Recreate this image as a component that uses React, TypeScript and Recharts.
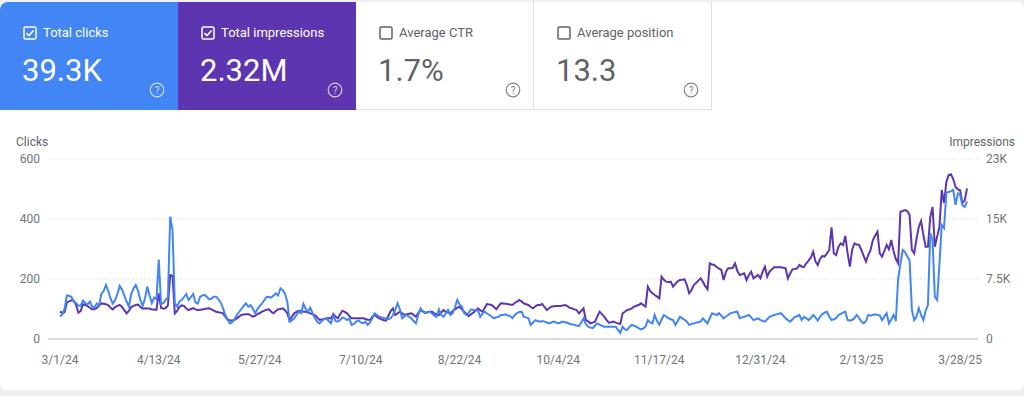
import React from "react";
import { LineChart, Line, XAxis, YAxis, CartesianGrid } from "recharts";

// daily values, 3/1/24 .. 3/31/25
const clicks = [
  75, 82, 100, 145, 144, 140, 125, 120, 112, 110,
  128, 120, 115, 125, 108, 105, 118, 112, 150, 160,
  180, 160, 135, 118, 130, 150, 177, 165, 145, 125,
  108, 150, 168, 180, 160, 130, 110, 135, 175, 145,
  120, 138, 132, 265, 118, 120, 130, 140, 408, 363,
  120, 108, 125, 130, 140, 150, 130, 140, 150, 122,
  118, 140, 145, 147, 140, 132, 135, 141, 141, 132,
  122, 102, 80, 65, 52, 56, 66, 80, 90, 100,
  110, 119, 108, 113, 100, 86, 100, 110, 119, 130,
  141, 140, 138, 145, 152, 145, 169, 163, 150, 124,
  58, 62, 69, 80, 91, 86, 117, 100, 91, 104,
  86, 70, 58, 52, 60, 66, 69, 60, 52, 80,
  60, 58, 63, 72, 69, 63, 68, 47, 50, 58,
  62, 55, 52, 58, 47, 55, 69, 86, 80, 74,
  72, 70, 69, 66, 69, 80, 97, 119, 100, 69,
  75, 80, 74, 69, 60, 52, 80, 102, 92, 86,
  88, 91, 85, 78, 74, 99, 80, 74, 85, 97,
  80, 86, 105, 130, 115, 108, 86, 80, 88, 99,
  97, 97, 95, 74, 85, 91, 85, 80, 75, 69,
  72, 74, 80, 80, 82, 78, 77, 69, 80, 86,
  90, 91, 74, 72, 69, 47, 55, 63, 60, 58,
  60, 58, 55, 52, 55, 58, 55, 52, 55, 58,
  56, 54, 50, 49, 47, 45, 43, 55, 69, 50,
  41, 38, 36, 45, 52, 48, 44, 41, 41, 42,
  41, 41, 41, 30, 21, 41, 32, 30, 40, 47,
  44, 41, 36, 32, 35, 41, 63, 55, 52, 80,
  60, 47, 65, 80, 75, 69, 66, 63, 47, 60,
  74, 69, 64, 58, 47, 50, 52, 54, 56, 58,
  69, 60, 52, 70, 86, 83, 80, 86, 78, 69,
  75, 80, 86, 88, 90, 91, 69, 72, 74, 77,
  80, 72, 63, 66, 69, 64, 60, 58, 66, 74,
  77, 80, 82, 84, 86, 78, 69, 63, 58, 66,
  74, 76, 80, 63, 74, 70, 63, 70, 80, 72,
  61, 75, 83, 88, 91, 75, 63, 66, 69, 80,
  84, 88, 91, 63, 62, 63, 70, 80, 70, 58,
  52, 60, 80, 78, 80, 82, 80, 79, 63, 75,
  86, 52, 65, 80, 60, 200, 250, 297, 290, 275,
  263, 97, 63, 75, 103, 80, 63, 95, 113, 353,
  330, 140, 130, 250, 380, 370, 487, 490, 493, 497,
  447, 485, 480, 445, 440, 458,
];

const impressions = [
  3400, 3300, 3350, 4600, 4700, 4850, 4800, 4250, 3300, 3500,
  4350, 4250, 4100, 3900, 3700, 3750, 3850, 4200, 4450, 4400,
  4350, 4250, 3900, 3700, 4000, 4150, 4250, 4000, 3600, 3200,
  3500, 4000, 4150, 4250, 4300, 4000, 3800, 3850, 3800, 3800,
  3700, 3700, 3650, 5700, 3900, 3800, 3850, 4200, 8000, 7900,
  3200, 3500, 4000, 4200, 4150, 3800, 3600, 3750, 3850, 3700,
  3600, 3650, 3700, 3750, 3800, 3830, 3700, 3550, 3415, 3350,
  3300, 3210, 2800, 2400, 2350, 2290, 2400, 2580, 2800, 3000,
  3050, 3100, 3125, 2950, 2790, 2900, 3125, 3250, 3415, 3550,
  3650, 3710, 3400, 3210, 3500, 3710, 3750, 3830, 3600, 3210,
  2290, 2800, 3210, 3400, 3540, 3500, 3415, 3400, 3300, 3210,
  3100, 3000, 2700, 2375, 2450, 2500, 2580, 2580, 2580, 3125,
  2800, 2580, 3100, 3540, 3400, 3210, 2870, 2580, 2580, 2600,
  2580, 2600, 2580, 2500, 2400, 2375, 2800, 3000, 2800, 2580,
  2450, 2350, 2290, 2900, 3500, 3830, 3000, 3200, 3415, 3200,
  3000, 3100, 3150, 3210, 3000, 2790, 3200, 3625, 3450, 3290,
  3350, 3400, 3415, 3200, 3100, 3000, 3300, 3625, 3400, 3300,
  3210, 3500, 3710, 3900, 4040, 3700, 3415, 3100, 2870, 3100,
  3290, 3550, 3830, 3600, 3415, 3900, 4375, 4300, 4250, 4000,
  3710, 4100, 4460, 4450, 4400, 4375, 4300, 4250, 4500, 4665,
  4875, 4700, 4460, 4350, 4250, 4000, 3830, 4100, 4250, 4250,
  4375, 4000, 3625, 3850, 4040, 4100, 4125, 4125, 4125, 4200,
  4250, 4100, 3900, 3830, 3700, 3625, 3210, 3500, 3830, 2375,
  2200, 1960, 2050, 2170, 2800, 3415, 3100, 2790, 2400, 2040,
  2100, 2170, 2050, 1950, 1875, 3210, 3400, 3625, 3700, 3830,
  4040, 4150, 4250, 4460, 4250, 4040, 6540, 6000, 5710, 5500,
  5300, 5080, 7790, 7400, 7165, 7100, 7165, 6540, 6900, 7200,
  7375, 7400, 7460, 6750, 5710, 6100, 6750, 7000, 7300, 7580,
  7165, 6600, 6210, 9460, 9300, 9250, 9000, 8800, 8625, 7375,
  8400, 8830, 8830, 8900, 9460, 8500, 8000, 8100, 8210, 7375,
  8000, 8415, 7580, 7800, 8000, 7580, 8400, 9040, 7790, 8415,
  8700, 8960, 8960, 8960, 8960, 8900, 8830, 7580, 8200, 8710,
  8760, 8830, 9250, 9040, 9000, 9460, 9800, 10200, 10915, 9700,
  9250, 10000, 10375, 10290, 10700, 11125, 13960, 10710, 10500, 11500,
  11960, 11750, 12875, 10710, 9040, 11200, 11960, 11800, 11750, 11125,
  10400, 9665, 10500, 11125, 12375, 12900, 13415, 10710, 10290, 11000,
  11750, 11210, 12375, 11000, 10000, 9460, 15915, 16000, 16125, 16000,
  15500, 11125, 10710, 12500, 14000, 14750, 13000, 11500, 11540, 15250,
  16500, 11540, 12800, 14000, 18625, 17000, 19600, 20500, 20600, 20000,
  19000, 18710, 18600, 17000, 17300, 18830,
];

const dateTicks = ["3/1/24", "4/13/24", "5/27/24", "7/10/24", "8/22/24", "10/4/24", "11/17/24", "12/31/24", "2/13/25", "3/28/25"];
const clickTicks = [0, 200, 400, 600];
const impressionTicks = [0, 7500, 15000, 22500];

const tileLabels = ["Total clicks", "Total impressions", "Average CTR", "Average position"];
const tileValues = ["39.3K", "2.32M", "1.7%", "13.3"];

const BLUE = "#4285f4";
const PURPLE = "#5e35b1";
const GREY = "#5f6368";
const AXIS_TEXT = "#70757a";

const dayLabel = (i: number) => {
  const d = new Date(2024, 2, 1 + i);
  return `${d.getMonth() + 1}/${d.getDate()}/${String(d.getFullYear()).slice(2)}`;
};

const data = clicks.map((c, i) => ({ date: dayLabel(i), clicks: c, impressions: impressions[i] }));

const fmtImpressions = (v: number) => (v === 0 ? "0" : `${Number((v / 1000).toPrecision(2))}K`);

function CheckBox({ checked, color }: { checked: boolean; color: string }) {
  return (
    <svg width="14" height="14" viewBox="0 0 14 14" style={{ position: "absolute", left: 0, top: 0 }}>
      <rect x="1" y="1" width="12" height="12" rx="1.5" fill="none" stroke={color} strokeWidth="1.5" />
      {checked && <path d="M3.4 7.1 L5.9 9.5 L10.6 4.5" fill="none" stroke={color} strokeWidth="1.6" />}
    </svg>
  );
}

function HelpIcon({ color }: { color: string }) {
  return (
    <svg width="16" height="16" viewBox="0 0 16 16">
      <circle cx="8" cy="8" r="6.8" fill="none" stroke={color} strokeWidth="1.2" />
      <text x="8" y="11.6" textAnchor="middle" fontSize="10" fill={color} fontFamily="Roboto, Arial, sans-serif">?</text>
    </svg>
  );
}

function Tile({ index }: { index: number }) {
  const active = index < 2;
  const bg = index === 0 ? BLUE : index === 1 ? PURPLE : "#fff";
  const fg = active ? "#fff" : GREY;
  const left = index * 178;
  return (
    <div
      style={{
        position: "absolute", left, top: 2, width: 178, height: 108, background: bg,
        boxSizing: "border-box",
        borderRight: active ? "none" : "1px solid #e0e0e0",
        borderBottom: active ? "none" : "1px solid #e0e0e0",
        borderTopLeftRadius: index === 0 ? 8 : 0,
      }}
    >
      <div style={{ position: "absolute", left: 23, top: 24 }}>
        <CheckBox checked={active} color={active ? "#fff" : GREY} />
      </div>
      <div style={{ position: "absolute", left: 43, top: 23, fontSize: 13, lineHeight: "16px", color: fg }}>
        {tileLabels[index]}
      </div>
      <div style={{ position: "absolute", left: 22, top: 53, fontSize: 31, lineHeight: "31px", color: fg }}>
        {tileValues[index]}
      </div>
      <div style={{ position: "absolute", left: 149, top: 80 }}>
        <HelpIcon color={active ? "rgba(255,255,255,0.75)" : "#80868b"} />
      </div>
    </div>
  );
}

export default function App() {
  return (
    <div
      style={{
        position: "fixed", left: 0, top: 0, width: 1024, height: 396, background: "#eef0f3",
        fontFamily: "Roboto, Arial, sans-serif", overflow: "hidden",
      }}
    >
      <div style={{ position: "absolute", left: 0, top: 2, width: 1024, height: 388, background: "#fff", borderRadius: 8 }} />
      {[0, 1, 2, 3].map((i) => (
        <Tile key={i} index={i} />
      ))}
      <div style={{ position: "absolute", left: 16, top: 135, fontSize: 12, lineHeight: "14px", color: GREY }}>Clicks</div>
      <div style={{ position: "absolute", right: 9, top: 135, fontSize: 12, lineHeight: "14px", color: GREY }}>Impressions</div>
      <div style={{ position: "absolute", left: 0, top: 130 }}>
        <LineChart width={1024} height={250} data={data} margin={{ top: 29, right: 6, bottom: 11, left: 8 }}>
          <CartesianGrid yAxisId="left" vertical={false} stroke="#e3e3e3" strokeDasharray="2 2" />
          <XAxis
            dataKey="date"
            ticks={dateTicks}
            interval={0}
            padding={{ left: 12, right: 11 }}
            tickLine={false}
            axisLine={{ stroke: "#bdbdbd" }}
            tickMargin={10}
            tick={{ fontSize: 12, fill: AXIS_TEXT }}
          />
          <YAxis
            yAxisId="left"
            orientation="left"
            width={40}
            domain={[0, 600]}
            ticks={clickTicks}
            axisLine={false}
            tickLine={false}
            tick={{ fontSize: 12, fill: AXIS_TEXT }}
          />
          <YAxis
            yAxisId="right"
            orientation="right"
            width={40}
            domain={[0, 22500]}
            ticks={impressionTicks}
            tickFormatter={fmtImpressions}
            axisLine={false}
            tickLine={false}
            tick={{ fontSize: 12, fill: AXIS_TEXT, textAnchor: "start" }}
          />
          <Line
            yAxisId="right"
            type="linear"
            dataKey="impressions"
            stroke={PURPLE}
            strokeWidth={2}
            dot={false}
            activeDot={false}
            isAnimationActive={false}
          />
          <Line
            yAxisId="left"
            type="linear"
            dataKey="clicks"
            stroke={BLUE}
            strokeWidth={2}
            dot={false}
            activeDot={false}
            isAnimationActive={false}
          />
        </LineChart>
      </div>
    </div>
  );
}
